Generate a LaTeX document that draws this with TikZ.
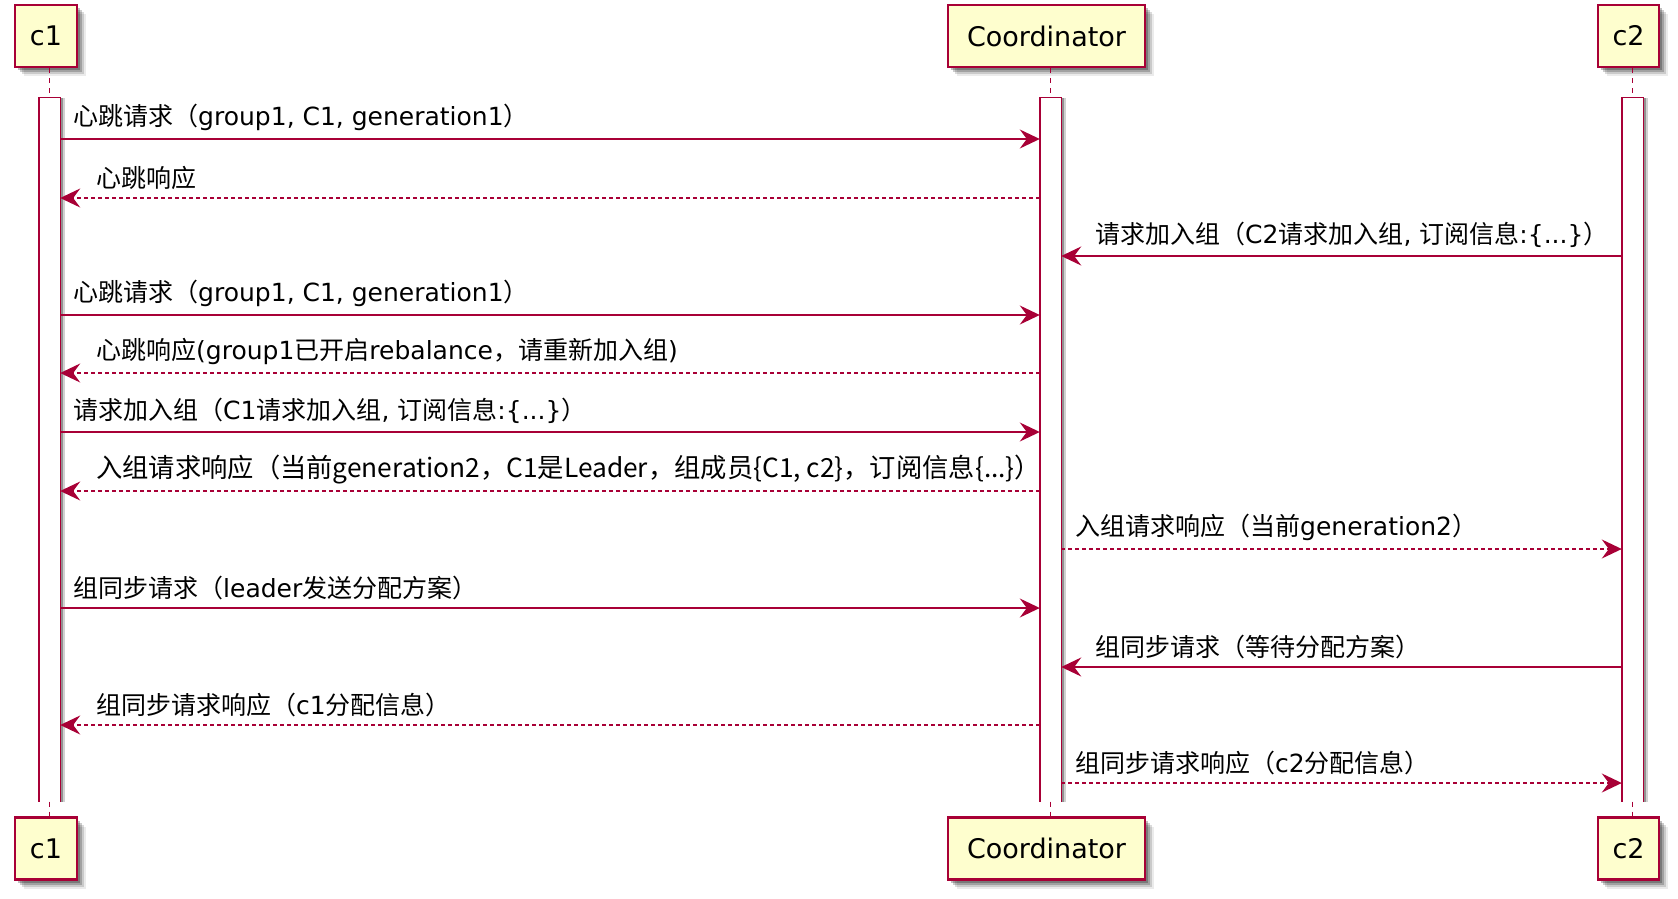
\documentclass[tikz,border=0pt]{standalone}
\usepackage{fontspec}
\setmainfont{DejaVu Sans}
\newfontfamily\cjk{Noto Sans CJK SC}
\usetikzlibrary{arrows.meta,shadows}
\newcommand{\zh}[1]{{\cjk #1}}
\definecolor{umlred}{HTML}{A80036}
\definecolor{umlfill}{HTML}{FEFECE}
\tikzset{
  softshadow/.style={
    drop shadow={shadow xshift=3pt,shadow yshift=-3pt,fill=black,opacity=.25},
    drop shadow={shadow xshift=5pt,shadow yshift=-5pt,fill=black,opacity=.2},
    drop shadow={shadow xshift=7pt,shadow yshift=-7pt,fill=black,opacity=.14},
    drop shadow={shadow xshift=9pt,shadow yshift=-9pt,fill=black,opacity=.08}},
  participant/.style={draw=umlred,line width=2.4pt,fill=umlfill,softshadow,
    minimum height=62pt,inner sep=0pt,
    font=\fontsize{27}{32}\selectfont},
  actbar/.style={fill=white,inner sep=0pt,
    minimum width=21pt,minimum height=704pt,
    drop shadow={shadow xshift=3pt,shadow yshift=0pt,fill=black,opacity=.3},
    drop shadow={shadow xshift=5pt,shadow yshift=0pt,fill=black,opacity=.18}},
  actedge/.style={draw=umlred,line width=1.4pt},
  lifeline/.style={draw=umlred,line width=1.2pt,dash pattern=on 5pt off 5pt},
  msg/.style={draw=umlred,line width=1.6pt,-{Stealth[length=20pt,width=19pt,inset=7pt]}},
  reply/.style={msg,dash pattern=on 4pt off 3pt},
  lbl/.style={anchor=south west,inner sep=0pt,font=\fontsize{25}{29}\selectfont}
}
\begin{document}
\begin{tikzpicture}[x=1pt,y=-1pt]
\path[use as bounding box] (0,0) rectangle (1678,899);

% participants, top and bottom
\node[participant,minimum width=62pt]  (c1top) at (46,36)     {c1};
\node[participant,minimum width=197pt] (cotop) at (1046.5,36) {Coordinator};
\node[participant,minimum width=61pt]  (c2top) at (1628.5,36) {c2};
\node[participant,minimum width=62pt]  (c1bot) at (46,848.5)     {c1};
\node[participant,minimum width=197pt] (cobot) at (1046.5,848.5) {Coordinator};
\node[participant,minimum width=61pt]  (c2bot) at (1628.5,848.5) {c2};

% activation bars (open at the bottom)
\node[actbar] (actA) at (49.5,449.5) {};
\node[actbar] (actB) at (1050.5,449.5) {};
\node[actbar] (actC) at (1632.5,449.5) {};
\foreach \a in {actA,actB,actC}
  \draw[actedge] (\a.south west) -- (\a.north west) -- (\a.north east) -- (\a.south east);

% lifeline stubs
\foreach \a/\t/\b in {actA/c1top/c1bot,actB/cotop/cobot,actC/c2top/c2bot}{
  \draw[lifeline] (\a.north |- \t.south) -- (\a.north);
  \draw[lifeline] (\a.south) -- (\a.south |- \b.north);
}

% messages
\draw[msg]   (actA.east |- 0,139) -- (actB.west |- 0,139);
\node[lbl] (l1) at (73,131) {\zh{心跳请求（}group1, C1, generation1\zh{）}};

\draw[reply] (actB.west |- 0,198) -- (actA.east |- 0,198);
\node[lbl] (l2) at (96,190) {\zh{心跳响应}};

\draw[msg]   (actC.west |- 0,256) -- (actB.east |- 0,256);
\node[lbl] (l3) at (1095,248) {\zh{请求加入组（}C2\zh{请求加入组}, \zh{订阅信息}:\{...\}\zh{）}};

\draw[msg]   (actA.east |- 0,315) -- (actB.west |- 0,315);
\node[lbl] (l4) at (73,307) {\zh{心跳请求（}group1, C1, generation1\zh{）}};

\draw[reply] (actB.west |- 0,373) -- (actA.east |- 0,373);
\node[lbl] (l5) at (96,365) {\zh{心跳响应}(group1\zh{已开启}rebalance\zh{，请重新加入组})};

\draw[msg]   (actA.east |- 0,432) -- (actB.west |- 0,432);
\node[lbl] (l6) at (73,424) {\zh{请求加入组（}C1\zh{请求加入组}, \zh{订阅信息}:\{...\}\zh{）}};

\draw[reply] (actB.west |- 0,491) -- (actA.east |- 0,491);
\node[lbl,font=\fontsize{26.3}{30}\selectfont] (l7) at (96,484)
  {\zh{入组请求响应（当前generation2，C1是Leader，组成员\{C1, c2\}，订阅信息\{...\}）}};

\draw[reply] (actB.east |- 0,549) -- (actC.west |- 0,549);
\node[lbl] (l8) at (1075,541) {\zh{入组请求响应（当前}generation2\zh{）}};

\draw[msg]   (actA.east |- 0,608) -- (actB.west |- 0,608);
\node[lbl] (l9) at (73,600) {\zh{组同步请求（}leader\zh{发送分配方案）}};

\draw[msg]   (actC.west |- 0,667) -- (actB.east |- 0,667);
\node[lbl] (l10) at (1095,659) {\zh{组同步请求（等待分配方案）}};

\draw[reply] (actB.west |- 0,725) -- (actA.east |- 0,725);
\node[lbl] (l11) at (96,717) {\zh{组同步请求响应（}c1\zh{分配信息）}};

\draw[reply] (actB.east |- 0,783) -- (actC.west |- 0,783);
\node[lbl] (l12) at (1075,775) {\zh{组同步请求响应（}c2\zh{分配信息）}};
\end{tikzpicture}
\end{document}
